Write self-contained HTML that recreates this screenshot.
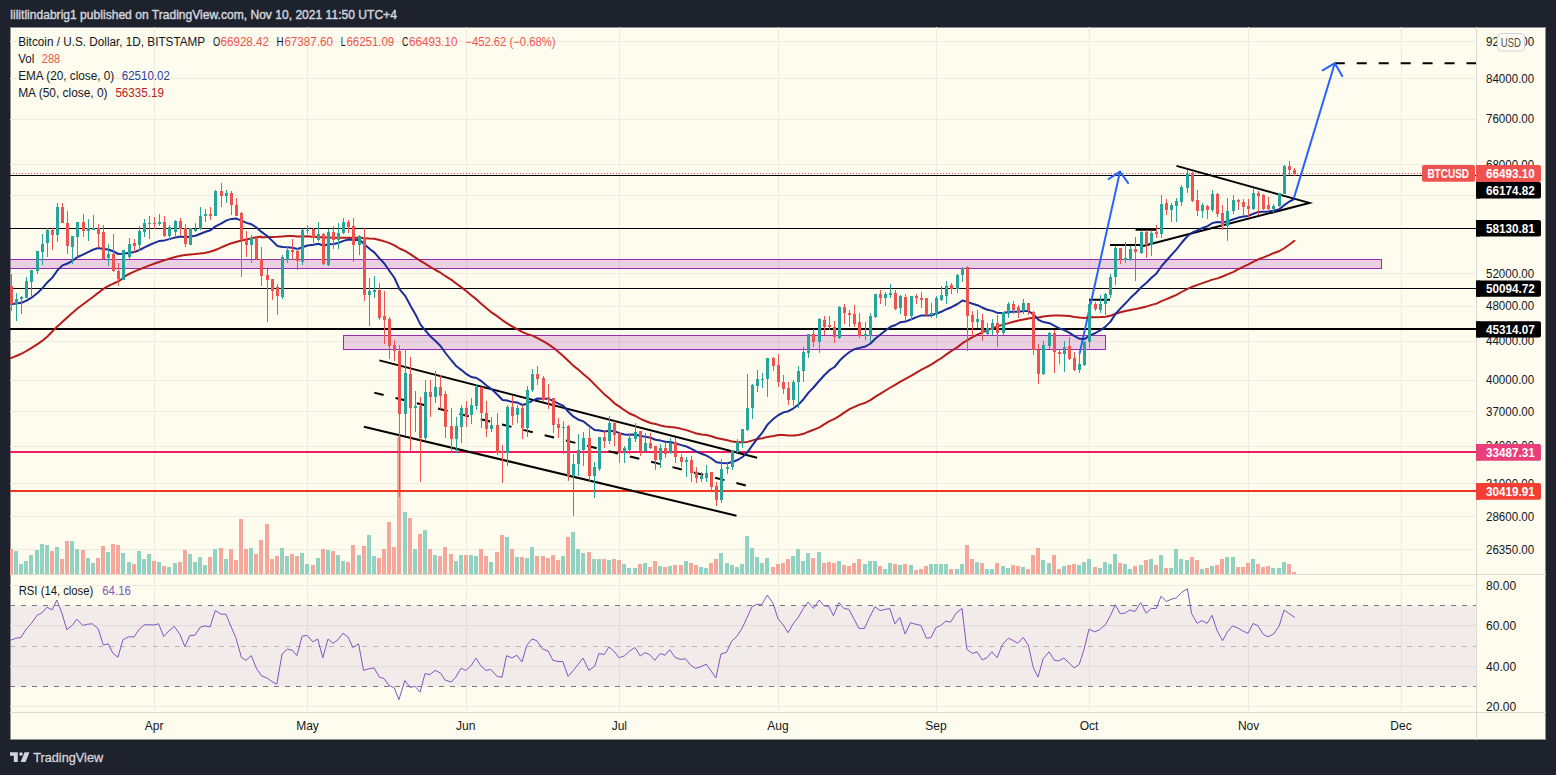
<!DOCTYPE html>
<html><head><meta charset="utf-8"><title>BTCUSD chart</title>
<style>
html,body{margin:0;padding:0;}
body{width:1556px;height:775px;background:#1e222d;position:relative;overflow:hidden;font-family:"Liberation Sans",sans-serif;}
.hdr{position:absolute;left:10px;top:6px;font-size:13px;font-weight:bold;color:#c9cbd2;white-space:nowrap;letter-spacing:-0.2px}
.chart{position:absolute;left:10px;top:27px;width:1536px;height:713px;background:#fefcee;box-shadow:inset 0 0 0 1px rgba(30,34,45,0.5);}
.leg{position:absolute;left:19px;font-size:12px;color:#131722;white-space:nowrap}
.leg span{margin-left:4px}
.foot{position:absolute;left:34px;top:747px;font-size:14px;color:#c9cbd2;white-space:nowrap}
</style></head><body>
<div class="chart"></div>
<svg width="1556" height="775" style="position:absolute;left:0;top:0"><defs><clipPath id="mp"><rect x="10" y="27" width="1466" height="547"/></clipPath><clipPath id="rp"><rect x="10" y="574" width="1466" height="138"/></clipPath></defs><path d="M10 41.5 H1476 M10 78.5 H1476 M10 119.5 H1476 M10 164.5 H1476 M10 195.5 H1476 M10 273.5 H1476 M10 306.5 H1476 M10 341.5 H1476 M10 380.5 H1476 M10 411.5 H1476 M10 446.5 H1476 M10 483.5 H1476 M10 516.5 H1476 M10 549.5 H1476 M10 585.5 H1476 M10 625.5 H1476 M10 666.5 H1476 M10 706.5 H1476 M154.5 27 V712 M307.5 27 V712 M466.5 27 V712 M619.5 27 V712 M778.5 27 V712 M936.5 27 V712 M1089.5 27 V712 M1248.5 27 V712 M1401.5 27 V712" stroke="#eeecdf" stroke-width="1" fill="none"/><rect x="10" y="605.5" width="1466" height="81" fill="#7e57c2" fill-opacity="0.1"/><path d="M10 574.5 H1546 M10 712.5 H1546 M1476.5 27 V740" stroke="#dcdacc" stroke-width="1" fill="none"/><g clip-path="url(#mp)"><path d="M14 551 h4 V574 h-4Z M19 564 h4 V574 h-4Z M24 561 h4 V574 h-4Z M29 555 h4 V574 h-4Z M35 550 h4 V574 h-4Z M40 544 h4 V574 h-4Z M45 545 h4 V574 h-4Z M55 547 h4 V574 h-4Z M70 541 h4 V574 h-4Z M75 549 h4 V574 h-4Z M86 558 h4 V574 h-4Z M91 563 h4 V574 h-4Z M106 552 h4 V574 h-4Z M121 553 h4 V574 h-4Z M127 562 h4 V574 h-4Z M137 551 h4 V574 h-4Z M142 559 h4 V574 h-4Z M147 554 h4 V574 h-4Z M157 562 h4 V574 h-4Z M167 567 h4 V574 h-4Z M173 563 h4 V574 h-4Z M188 554 h4 V574 h-4Z M193 562 h4 V574 h-4Z M198 557 h4 V574 h-4Z M203 565 h4 V574 h-4Z M213 549 h4 V574 h-4Z M224 559 h4 V574 h-4Z M249 548 h4 V574 h-4Z M280 548 h4 V574 h-4Z M285 556 h4 V574 h-4Z M300 553 h4 V574 h-4Z M305 564 h4 V574 h-4Z M316 558 h4 V574 h-4Z M326 550 h4 V574 h-4Z M336 555 h4 V574 h-4Z M341 561 h4 V574 h-4Z M357 555 h4 V574 h-4Z M367 535 h4 V574 h-4Z M372 556 h4 V574 h-4Z M403 512 h4 V574 h-4Z M413 549 h4 V574 h-4Z M423 530 h4 V574 h-4Z M433 555 h4 V574 h-4Z M454 561 h4 V574 h-4Z M459 555 h4 V574 h-4Z M469 555 h4 V574 h-4Z M474 556 h4 V574 h-4Z M489 562 h4 V574 h-4Z M505 537 h4 V574 h-4Z M515 557 h4 V574 h-4Z M525 558 h4 V574 h-4Z M530 547 h4 V574 h-4Z M561 556 h4 V574 h-4Z M571 532 h4 V574 h-4Z M576 549 h4 V574 h-4Z M581 553 h4 V574 h-4Z M592 559 h4 V574 h-4Z M597 559 h4 V574 h-4Z M607 560 h4 V574 h-4Z M622 564 h4 V574 h-4Z M627 568 h4 V574 h-4Z M633 568 h4 V574 h-4Z M643 563 h4 V574 h-4Z M658 566 h4 V574 h-4Z M668 566 h4 V574 h-4Z M684 561 h4 V574 h-4Z M699 567 h4 V574 h-4Z M704 568 h4 V574 h-4Z M719 553 h4 V574 h-4Z M725 563 h4 V574 h-4Z M730 565 h4 V574 h-4Z M735 567 h4 V574 h-4Z M740 564 h4 V574 h-4Z M745 536 h4 V574 h-4Z M750 548 h4 V574 h-4Z M755 557 h4 V574 h-4Z M760 563 h4 V574 h-4Z M765 558 h4 V574 h-4Z M791 556 h4 V574 h-4Z M796 549 h4 V574 h-4Z M801 561 h4 V574 h-4Z M806 553 h4 V574 h-4Z M817 552 h4 V574 h-4Z M837 561 h4 V574 h-4Z M863 564 h4 V574 h-4Z M868 561 h4 V574 h-4Z M873 561 h4 V574 h-4Z M883 569 h4 V574 h-4Z M888 563 h4 V574 h-4Z M898 565 h4 V574 h-4Z M909 565 h4 V574 h-4Z M929 564 h4 V574 h-4Z M934 564 h4 V574 h-4Z M939 564 h4 V574 h-4Z M944 564 h4 V574 h-4Z M955 569 h4 V574 h-4Z M960 564 h4 V574 h-4Z M975 562 h4 V574 h-4Z M985 569 h4 V574 h-4Z M990 569 h4 V574 h-4Z M1001 566 h4 V574 h-4Z M1006 568 h4 V574 h-4Z M1021 567 h4 V574 h-4Z M1041 560 h4 V574 h-4Z M1047 563 h4 V574 h-4Z M1062 566 h4 V574 h-4Z M1077 565 h4 V574 h-4Z M1082 562 h4 V574 h-4Z M1087 559 h4 V574 h-4Z M1098 568 h4 V574 h-4Z M1103 562 h4 V574 h-4Z M1108 564 h4 V574 h-4Z M1113 554 h4 V574 h-4Z M1123 564 h4 V574 h-4Z M1128 569 h4 V574 h-4Z M1139 565 h4 V574 h-4Z M1149 559 h4 V574 h-4Z M1159 555 h4 V574 h-4Z M1169 568 h4 V574 h-4Z M1174 549 h4 V574 h-4Z M1179 559 h4 V574 h-4Z M1185 560 h4 V574 h-4Z M1200 569 h4 V574 h-4Z M1210 566 h4 V574 h-4Z M1225 557 h4 V574 h-4Z M1231 557 h4 V574 h-4Z M1251 559 h4 V574 h-4Z M1271 568 h4 V574 h-4Z M1277 568 h4 V574 h-4Z M1282 562 h4 V574 h-4Z" fill="#92d2c3"/><path d="M9 549 h4 V574 h-4Z M50 551 h4 V574 h-4Z M60 559 h4 V574 h-4Z M65 541 h4 V574 h-4Z M81 550 h4 V574 h-4Z M96 558 h4 V574 h-4Z M101 546 h4 V574 h-4Z M111 544 h4 V574 h-4Z M116 545 h4 V574 h-4Z M132 564 h4 V574 h-4Z M152 561 h4 V574 h-4Z M162 566 h4 V574 h-4Z M178 562 h4 V574 h-4Z M183 550 h4 V574 h-4Z M208 557 h4 V574 h-4Z M219 548 h4 V574 h-4Z M229 549 h4 V574 h-4Z M234 560 h4 V574 h-4Z M239 519 h4 V574 h-4Z M244 549 h4 V574 h-4Z M254 554 h4 V574 h-4Z M259 540 h4 V574 h-4Z M265 524 h4 V574 h-4Z M270 559 h4 V574 h-4Z M275 556 h4 V574 h-4Z M290 554 h4 V574 h-4Z M295 556 h4 V574 h-4Z M311 565 h4 V574 h-4Z M321 549 h4 V574 h-4Z M331 551 h4 V574 h-4Z M346 562 h4 V574 h-4Z M351 545 h4 V574 h-4Z M362 546 h4 V574 h-4Z M377 558 h4 V574 h-4Z M382 549 h4 V574 h-4Z M387 522 h4 V574 h-4Z M392 547 h4 V574 h-4Z M397 437 h4 V574 h-4Z M408 518 h4 V574 h-4Z M418 534 h4 V574 h-4Z M428 549 h4 V574 h-4Z M438 556 h4 V574 h-4Z M443 547 h4 V574 h-4Z M449 554 h4 V574 h-4Z M464 555 h4 V574 h-4Z M479 549 h4 V574 h-4Z M484 556 h4 V574 h-4Z M495 552 h4 V574 h-4Z M500 535 h4 V574 h-4Z M510 549 h4 V574 h-4Z M520 557 h4 V574 h-4Z M535 556 h4 V574 h-4Z M541 556 h4 V574 h-4Z M546 558 h4 V574 h-4Z M551 555 h4 V574 h-4Z M556 560 h4 V574 h-4Z M566 537 h4 V574 h-4Z M587 552 h4 V574 h-4Z M602 559 h4 V574 h-4Z M612 559 h4 V574 h-4Z M617 560 h4 V574 h-4Z M638 564 h4 V574 h-4Z M648 567 h4 V574 h-4Z M653 561 h4 V574 h-4Z M663 567 h4 V574 h-4Z M673 565 h4 V574 h-4Z M679 565 h4 V574 h-4Z M689 563 h4 V574 h-4Z M694 565 h4 V574 h-4Z M709 563 h4 V574 h-4Z M714 559 h4 V574 h-4Z M771 567 h4 V574 h-4Z M776 564 h4 V574 h-4Z M781 563 h4 V574 h-4Z M786 559 h4 V574 h-4Z M811 558 h4 V574 h-4Z M822 563 h4 V574 h-4Z M827 562 h4 V574 h-4Z M832 563 h4 V574 h-4Z M842 565 h4 V574 h-4Z M847 566 h4 V574 h-4Z M852 563 h4 V574 h-4Z M857 559 h4 V574 h-4Z M878 566 h4 V574 h-4Z M893 564 h4 V574 h-4Z M903 564 h4 V574 h-4Z M914 570 h4 V574 h-4Z M919 569 h4 V574 h-4Z M924 566 h4 V574 h-4Z M949 569 h4 V574 h-4Z M965 545 h4 V574 h-4Z M970 559 h4 V574 h-4Z M980 563 h4 V574 h-4Z M995 563 h4 V574 h-4Z M1011 565 h4 V574 h-4Z M1016 566 h4 V574 h-4Z M1026 569 h4 V574 h-4Z M1031 555 h4 V574 h-4Z M1036 548 h4 V574 h-4Z M1052 555 h4 V574 h-4Z M1057 569 h4 V574 h-4Z M1067 565 h4 V574 h-4Z M1072 564 h4 V574 h-4Z M1093 567 h4 V574 h-4Z M1118 563 h4 V574 h-4Z M1133 566 h4 V574 h-4Z M1144 560 h4 V574 h-4Z M1154 565 h4 V574 h-4Z M1164 568 h4 V574 h-4Z M1190 557 h4 V574 h-4Z M1195 560 h4 V574 h-4Z M1205 568 h4 V574 h-4Z M1215 565 h4 V574 h-4Z M1220 559 h4 V574 h-4Z M1236 567 h4 V574 h-4Z M1241 567 h4 V574 h-4Z M1246 563 h4 V574 h-4Z M1256 564 h4 V574 h-4Z M1261 567 h4 V574 h-4Z M1266 566 h4 V574 h-4Z M1287 564 h4 V574 h-4Z M1292 572 h4 V574 h-4Z" fill="#f6a79c"/></g><g clip-path="url(#mp)"><rect x="4.5" y="259.5" width="1377" height="9" fill="#9c27b0" fill-opacity="0.2" stroke="#9c27b0" stroke-width="1"/></g><rect x="343.5" y="335.5" width="762" height="14" fill="#9c27b0" fill-opacity="0.2" stroke="#9c27b0" stroke-width="1"/><path d="M267.5 268 V322" stroke="#9c27b0" stroke-width="1"/><path d="M10 175.5 H1476 M10 228.5 H1476 M10 288.5 H1476" stroke="#000" stroke-width="1"/><path d="M10 329 H1476" stroke="#000" stroke-width="2"/><path d="M10 452 H1476" stroke="#e91e63" stroke-width="2"/><path d="M10 491 H1476" stroke="#f23622" stroke-width="2"/><path d="M10 173.5 H1422" stroke="#ef5350" stroke-width="1" stroke-dasharray="1 2"/><g fill="none" stroke="#000" stroke-width="2" stroke-linecap="butt"><path d="M379.4 360.4 L757.1 457.8"/><path d="M374.2 392.6 L746.1 485.5" stroke-dasharray="9.7 12.26"/><path d="M363.9 426.7 L736.5 515.7"/><path d="M1089 299.7 H1110 M1110 245.1 H1143 M1135.6 229.8 H1156"/><path d="M1176.5 165.9 L1309.4 202.9 L1143 246"/><path d="M1334.8 63.2 H1476" stroke-dasharray="10 11.95"/></g><g fill="none" stroke="#2962ff" stroke-width="2" stroke-linecap="round" stroke-linejoin="round"><path d="M1079.6 353.5 L1120 171.6 M1108.7 179 L1120 171.6 L1128 182.9"/><path d="M1294.2 197.1 L1334.8 63.2 M1322.6 70.3 L1334.8 63.2 L1342.2 76.1"/></g><g clip-path="url(#mp)" fill="none" stroke-linejoin="round" stroke-linecap="round"><polyline points="10.8,358.2 12.1,357.6 14,356.9 16.1,356 18.5,355 20.9,353.9 23.2,352.8 25.5,351.5 27.9,350.1 30.4,348.7 32.8,347.1 35.1,345.7 37.2,344.3 39,343.1 40.7,341.9 42.2,340.9 43.6,339.7 45,338.6 46.5,337.3 48,335.9 49.6,334.3 51.1,332.7 52.6,331.1 54.2,329.5 55.7,328 57.2,326.6 58.7,325.2 60.2,323.9 61.7,322.5 63.3,321 65,319.5 66.9,317.8 68.8,316.1 70.8,314.2 72.9,312.4 75.1,310.5 77.4,308.6 79.8,306.7 82.5,304.7 85.2,302.7 87.8,300.7 90.5,298.8 92.9,297 95.1,295.3 97.2,293.6 99.2,292.1 101.2,290.5 103.2,289.1 105.3,287.7 107.6,286.4 110,285.2 112.4,284.1 114.8,283 117.1,281.9 119.2,280.8 120.9,279.7 122.2,278.7 123.4,277.6 124.7,276.5 126.5,275.3 129,274 132.4,272.4 136.4,270.7 140.9,268.8 145.6,266.9 150.3,265.1 154.8,263.5 159.1,262 163.3,260.6 167.5,259.2 171.8,258 176.1,256.8 180.6,255.8 185.2,255 190.1,254.4 195,254 199.8,253.5 204.5,252.9 209,252 213.2,250.8 217.1,249.3 220.8,247.6 224.5,246 228.3,244.4 232.3,243 236.7,241.8 241.5,240.5 246.4,239.4 251,238.4 255,237.6 258,237 259.9,236.7 260.9,236.7 261.4,236.8 261.4,237.1 261.4,237.3 261.5,237.4 267.5,237 272.5,236.9 277.5,236.8 282.5,236.4 287.5,236 292.5,236 297.5,236.4 302.5,236.4 307.5,236.3 313.5,236.9 318.5,237.1 323.5,237.5 328.5,237.4 333.5,237.8 338.5,237.8 343.5,237.7 348.5,237.7 353.5,237.9 359.5,237.5 364.5,238.2 369.5,238.6 374.5,238.8 379.5,240 384.5,241.4 389.5,243.1 394.5,245.3 399.5,248.5 405.5,251.2 410.5,254.3 415.5,257.6 420.5,260.9 425.5,263.9 430.5,267.1 435.5,270 440.5,272.7 445.5,276.2 451.5,279.9 456.5,283.8 461.5,287.4 466.5,291.2 471.5,295.5 476.5,299.4 481.5,303.9 486.5,308.3 491.5,312.4 497.5,316.4 502.5,320.3 507.5,323.7 512.5,326.7 517.5,329.3 522.5,332.1 527.5,334.1 532.5,335.6 537.5,338.2 543.5,341.3 548.5,344.4 553.5,347.8 558.5,352 563.5,356.2 568.5,361 573.5,365.9 578.5,369.7 583.5,374.3 589.5,379.3 594.5,384.4 599.5,389.4 604.5,394.4 609.5,398.6 614.5,403.3 619.5,406.7 624.5,410.2 629.5,413.5 635.5,416 640.5,418.9 645.5,421 650.5,423 655.5,423.9 660.5,425.5 665.5,426.4 670.5,427.1 675.5,427.5 681.5,428.9 686.5,430.1 691.5,431.9 696.5,433.5 701.5,434.4 706.5,435.1 711.5,436.2 716.5,438 721.5,439.1 727.5,440.3 732.5,441.6 737.5,442.2 742.5,442.2 747.5,441.9 752.5,440.4 757.5,438.9 762.5,438.2 767.5,436.9 773.5,436 778.5,435 783.5,434.9 788.5,435.5 793.5,435.6 798.5,434.9 803.5,433.8 808.5,431.7 813.5,429.8 819.5,427.3 824.5,424.1 829.5,421.2 834.5,418.8 839.5,415.9 844.5,412.4 849.5,409.2 854.5,406.8 859.5,404.6 865.5,402.7 870.5,400.1 875.5,396.7 880.5,393.6 885.5,390.5 890.5,387.5 895.5,384.6 900.5,381.6 905.5,378.9 911.5,375.7 916.5,372.6 921.5,369.6 926.5,367.1 931.5,364.3 936.5,361.1 941.5,358 946.5,354.4 951.5,350.9 957.5,347.1 962.5,343.2 967.5,340.2 972.5,337.2 977.5,334.6 982.5,332.3 987.5,330.2 992.5,328.1 997.5,326.4 1003.5,324.6 1008.5,323.1 1013.5,321.8 1018.5,320.5 1023.5,319.4 1028.5,318.4 1033.5,317.8 1038.5,317.6 1043.5,316.6 1049.5,315.7 1054.5,315.4 1059.5,315.4 1064.5,315.7 1069.5,316 1074.5,316.9 1079.5,317.6 1084.5,317.9 1089.5,317.3 1095.5,317.3 1100.5,317.1 1105.5,316.7 1110.5,315.7 1115.5,313.8 1120.5,312.3 1125.5,311 1130.5,310.1 1135.5,309.1 1141.5,307.7 1146.5,306.6 1151.5,304.9 1156.5,303.6 1161.5,301.1 1166.5,299.1 1171.5,297 1176.5,294.8 1181.5,292 1187.5,288.8 1192.5,286.7 1197.5,284.9 1202.5,283.1 1207.5,281.4 1212.5,279.6 1217.5,278.4 1222.5,276.5 1227.5,274.3 1233.5,271.8 1238.5,269.2 1243.5,266.7 1248.5,264.4 1253.5,261.6 1258.5,259.3 1263.5,257.4 1268.5,255.3 1273.5,253.2 1279.5,251 1284.5,248 1289.5,244.5 1294.5,240.8" stroke="#b71c1c" stroke-width="2"/><polyline points="11.5,303.9 16.5,303.4 21.5,302.8 26.5,300.7 31.5,297.7 37.5,293 42.5,288.1 47.5,282.2 52.5,277.4 57.5,270.2 62.5,265.4 67.5,263.5 72.5,260.8 77.5,257 83.5,254.4 88.5,251.8 93.5,249.5 98.5,248 103.5,249 108.5,249.5 113.5,251.5 118.5,254 123.5,253.7 129.5,252.7 134.5,252.1 139.5,250 144.5,247.4 149.5,245 154.5,242.9 159.5,240.9 164.5,240.4 169.5,239.1 175.5,237.4 180.5,236.6 185.5,237.3 190.5,236.4 195.5,235.7 200.5,233.8 205.5,231.8 210.5,230.3 215.5,226.4 221.5,223.4 226.5,220.4 231.5,218.9 236.5,218.6 241.5,220.6 246.5,222.9 251.5,224.3 256.5,227.5 261.5,231.9 267.5,236.2 272.5,241.1 277.5,246 282.5,247.1 287.5,247.3 292.5,247.8 297.5,249 302.5,247.2 307.5,245.5 313.5,244.8 318.5,243.8 323.5,245.7 328.5,244.3 333.5,244 338.5,242.9 343.5,240.9 348.5,239.5 353.5,240.1 359.5,239.7 364.5,244.6 369.5,248.8 374.5,252.6 379.5,258.4 384.5,263.8 389.5,271 394.5,278 399.5,289.1 405.5,296.4 410.5,305.8 415.5,314.4 420.5,324.6 425.5,330.6 430.5,336.5 435.5,341 440.5,346 445.5,353 451.5,360.5 456.5,366.3 461.5,370.1 466.5,374.2 471.5,377.1 476.5,378 481.5,381.2 486.5,385.5 491.5,389.1 497.5,394.8 502.5,400 507.5,400.6 512.5,402.1 517.5,402.6 522.5,405 527.5,403.5 532.5,400.6 537.5,398.5 543.5,398.7 548.5,398.8 553.5,401.2 558.5,403.7 563.5,405.9 568.5,412 573.5,416.7 578.5,419.7 583.5,421.4 589.5,426.3 594.5,430 599.5,430.6 604.5,431.6 609.5,430.8 614.5,431.2 619.5,433.1 624.5,434.5 629.5,434.8 635.5,434.5 640.5,436 645.5,436.7 650.5,437.8 655.5,439.8 660.5,440.6 665.5,441.8 670.5,442 675.5,443.4 681.5,445.1 686.5,446.5 691.5,448.9 696.5,451.6 701.5,453.8 706.5,455.6 711.5,458.5 716.5,462.3 721.5,462.9 727.5,463.3 732.5,462 737.5,460 742.5,457 747.5,452.1 752.5,445.2 757.5,438.4 762.5,432.3 767.5,424.6 773.5,418.7 778.5,415 783.5,412.4 788.5,411.2 793.5,408.3 798.5,404.6 803.5,399.2 808.5,392.6 813.5,387.5 819.5,380.5 824.5,375 829.5,370.2 834.5,367 839.5,360.8 844.5,356 849.5,352 854.5,349.2 859.5,347.9 865.5,346.5 870.5,343.5 875.5,338.5 880.5,334.5 885.5,330.5 890.5,326.8 895.5,325 900.5,322.2 905.5,321.6 911.5,319.2 916.5,317.1 921.5,315.4 926.5,315.4 931.5,315.2 936.5,313.5 941.5,311.7 946.5,309.2 951.5,307.2 957.5,304 962.5,300.5 967.5,301.9 972.5,303.8 977.5,305.2 982.5,307.7 987.5,309.7 992.5,310.9 997.5,312.9 1003.5,312.8 1008.5,312 1013.5,311.8 1018.5,311.8 1023.5,311 1028.5,311 1033.5,314.5 1038.5,319.8 1043.5,322.1 1049.5,323.2 1054.5,325.9 1059.5,328.4 1064.5,330.2 1069.5,332.8 1074.5,336.2 1079.5,338.8 1084.5,339.1 1089.5,335.6 1095.5,333 1100.5,330.2 1105.5,326.6 1110.5,321.6 1115.5,314 1120.5,308.4 1125.5,303.3 1130.5,297.8 1135.5,293.3 1141.5,287 1146.5,282.8 1151.5,277.7 1156.5,273.4 1161.5,266.2 1166.5,260.5 1171.5,254.9 1176.5,249.4 1181.5,243 1187.5,236 1192.5,232.5 1197.5,230.4 1202.5,227.9 1207.5,226.2 1212.5,223 1217.5,222.1 1222.5,222.5 1227.5,221.4 1233.5,219.3 1238.5,217.6 1243.5,216.6 1248.5,215.9 1253.5,213.7 1258.5,211.9 1263.5,211.7 1268.5,211.4 1273.5,210.8 1279.5,209.1 1284.5,204.9 1289.5,201.5 1294.5,198.8" stroke="#1a2d99" stroke-width="2"/></g><g clip-path="url(#mp)"><path d="M16 293 h1 V321 h-1Z M21 296 h1 V314 h-1Z M26 277 h1 V298 h-1Z M31 270 h1 V296 h-1Z M37 251 h1 V274 h-1Z M42 234 h1 V265 h-1Z M47 228 h1 V257 h-1Z M57 203 h1 V242 h-1Z M72 236 h1 V264 h-1Z M77 222 h1 V257 h-1Z M88 219 h1 V241 h-1Z M93 215 h1 V230 h-1Z M108 244 h1 V266 h-1Z M123 250 h1 V280 h-1Z M129 238 h1 V259 h-1Z M139 226 h1 V251 h-1Z M144 219 h1 V237 h-1Z M149 216 h1 V239 h-1Z M159 214 h1 V226 h-1Z M169 225 h1 V240 h-1Z M175 220 h1 V237 h-1Z M190 228 h1 V245 h-1Z M195 223 h1 V232 h-1Z M200 207 h1 V230 h-1Z M205 209 h1 V222 h-1Z M215 190 h1 V216 h-1Z M226 190 h1 V203 h-1Z M251 235 h1 V263 h-1Z M282 255 h1 V299 h-1Z M287 247 h1 V263 h-1Z M302 229 h1 V265 h-1Z M307 225 h1 V234 h-1Z M318 222 h1 V241 h-1Z M328 229 h1 V266 h-1Z M338 223 h1 V249 h-1Z M343 218 h1 V234 h-1Z M359 235 h1 V255 h-1Z M369 278 h1 V326 h-1Z M374 276 h1 V298 h-1Z M405 349 h1 V435 h-1Z M415 391 h1 V432 h-1Z M425 380 h1 V441 h-1Z M435 371 h1 V403 h-1Z M456 417 h1 V453 h-1Z M461 405 h1 V443 h-1Z M471 398 h1 V424 h-1Z M476 384 h1 V410 h-1Z M491 417 h1 V432 h-1Z M507 405 h1 V466 h-1Z M517 405 h1 V423 h-1Z M527 386 h1 V437 h-1Z M532 369 h1 V392 h-1Z M563 421 h1 V454 h-1Z M573 454 h1 V516 h-1Z M578 434 h1 V476 h-1Z M583 432 h1 V466 h-1Z M594 462 h1 V498 h-1Z M599 437 h1 V471 h-1Z M609 416 h1 V444 h-1Z M624 446 h1 V463 h-1Z M629 433 h1 V454 h-1Z M635 423 h1 V442 h-1Z M645 433 h1 V452 h-1Z M660 444 h1 V468 h-1Z M670 438 h1 V454 h-1Z M686 457 h1 V477 h-1Z M701 472 h1 V482 h-1Z M706 465 h1 V482 h-1Z M721 459 h1 V503 h-1Z M727 463 h1 V474 h-1Z M732 450 h1 V470 h-1Z M737 439 h1 V453 h-1Z M742 429 h1 V448 h-1Z M747 374 h1 V431 h-1Z M752 384 h1 V419 h-1Z M757 370 h1 V392 h-1Z M762 373 h1 V388 h-1Z M767 358 h1 V397 h-1Z M793 380 h1 V406 h-1Z M798 366 h1 V408 h-1Z M803 347 h1 V382 h-1Z M808 334 h1 V358 h-1Z M819 318 h1 V353 h-1Z M839 306 h1 V339 h-1Z M865 322 h1 V340 h-1Z M870 313 h1 V342 h-1Z M875 294 h1 V318 h-1Z M885 292 h1 V306 h-1Z M890 284 h1 V298 h-1Z M900 295 h1 V314 h-1Z M911 296 h1 V320 h-1Z M931 303 h1 V318 h-1Z M936 296 h1 V318 h-1Z M941 286 h1 V301 h-1Z M946 281 h1 V304 h-1Z M957 274 h1 V293 h-1Z M962 267 h1 V282 h-1Z M977 310 h1 V328 h-1Z M987 323 h1 V336 h-1Z M992 319 h1 V335 h-1Z M1003 312 h1 V335 h-1Z M1008 302 h1 V318 h-1Z M1023 299 h1 V314 h-1Z M1043 341 h1 V375 h-1Z M1049 332 h1 V349 h-1Z M1064 341 h1 V372 h-1Z M1079 350 h1 V373 h-1Z M1084 341 h1 V366 h-1Z M1089 301 h1 V348 h-1Z M1100 295 h1 V313 h-1Z M1105 293 h1 V315 h-1Z M1110 274 h1 V298 h-1Z M1115 246 h1 V285 h-1Z M1125 242 h1 V263 h-1Z M1130 246 h1 V261 h-1Z M1141 230 h1 V254 h-1Z M1151 230 h1 V256 h-1Z M1161 195 h1 V238 h-1Z M1171 203 h1 V222 h-1Z M1176 198 h1 V222 h-1Z M1181 185 h1 V206 h-1Z M1187 170 h1 V193 h-1Z M1202 203 h1 V218 h-1Z M1212 190 h1 V212 h-1Z M1227 198 h1 V241 h-1Z M1233 195 h1 V214 h-1Z M1253 188 h1 V210 h-1Z M1273 204 h1 V214 h-1Z M1279 193 h1 V207 h-1Z M1284 165 h1 V194 h-1Z" fill="#26a69a"/><path d="M15 299 h3 V304 h-3Z M20 297 h3 V299 h-3Z M25 281 h3 V298 h-3Z M30 270 h3 V282 h-3Z M36 251 h3 V271 h-3Z M41 244 h3 V252 h-3Z M46 230 h3 V243 h-3Z M56 207 h3 V235 h-3Z M71 236 h3 V247 h-3Z M76 222 h3 V237 h-3Z M87 228 h3 V231 h-3Z M92 228 h3 V230 h-3Z M107 254 h3 V258 h-3Z M122 250 h3 V280 h-3Z M128 244 h3 V257 h-3Z M138 231 h3 V245 h-3Z M143 223 h3 V232 h-3Z M148 223 h3 V224 h-3Z M158 222 h3 V224 h-3Z M168 227 h3 V236 h-3Z M174 221 h3 V232 h-3Z M189 228 h3 V245 h-3Z M194 229 h3 V231 h-3Z M199 216 h3 V229 h-3Z M204 214 h3 V216 h-3Z M214 191 h3 V216 h-3Z M225 193 h3 V196 h-3Z M250 238 h3 V245 h-3Z M281 257 h3 V297 h-3Z M286 250 h3 V260 h-3Z M301 230 h3 V262 h-3Z M306 230 h3 V231 h-3Z M317 234 h3 V240 h-3Z M327 232 h3 V265 h-3Z M337 233 h3 V240 h-3Z M342 222 h3 V233 h-3Z M358 236 h3 V245 h-3Z M368 291 h3 V295 h-3Z M373 290 h3 V292 h-3Z M404 373 h3 V414 h-3Z M414 406 h3 V408 h-3Z M424 392 h3 V438 h-3Z M434 387 h3 V397 h-3Z M455 426 h3 V439 h-3Z M460 408 h3 V427 h-3Z M470 405 h3 V415 h-3Z M475 387 h3 V406 h-3Z M490 425 h3 V429 h-3Z M506 407 h3 V453 h-3Z M516 408 h3 V415 h-3Z M526 390 h3 V428 h-3Z M531 374 h3 V390 h-3Z M562 427 h3 V428 h-3Z M572 464 h3 V476 h-3Z M577 450 h3 V464 h-3Z M582 438 h3 V450 h-3Z M593 467 h3 V476 h-3Z M598 437 h3 V469 h-3Z M608 423 h3 V441 h-3Z M623 448 h3 V452 h-3Z M628 438 h3 V450 h-3Z M634 432 h3 V439 h-3Z M644 443 h3 V451 h-3Z M659 448 h3 V460 h-3Z M669 443 h3 V453 h-3Z M685 460 h3 V462 h-3Z M700 476 h3 V479 h-3Z M705 473 h3 V478 h-3Z M720 469 h3 V500 h-3Z M726 467 h3 V469 h-3Z M731 450 h3 V467 h-3Z M736 442 h3 V452 h-3Z M741 429 h3 V442 h-3Z M746 408 h3 V430 h-3Z M751 385 h3 V408 h-3Z M756 379 h3 V386 h-3Z M761 379 h3 V380 h-3Z M766 358 h3 V379 h-3Z M792 382 h3 V400 h-3Z M797 371 h3 V382 h-3Z M802 352 h3 V371 h-3Z M807 334 h3 V353 h-3Z M818 319 h3 V342 h-3Z M838 307 h3 V338 h-3Z M864 334 h3 V336 h-3Z M869 316 h3 V336 h-3Z M874 294 h3 V317 h-3Z M884 294 h3 V298 h-3Z M889 293 h3 V295 h-3Z M899 296 h3 V308 h-3Z M910 296 h3 V316 h-3Z M930 313 h3 V315 h-3Z M935 298 h3 V315 h-3Z M940 295 h3 V300 h-3Z M945 286 h3 V296 h-3Z M956 275 h3 V289 h-3Z M961 268 h3 V275 h-3Z M976 319 h3 V322 h-3Z M986 328 h3 V334 h-3Z M991 323 h3 V330 h-3Z M1002 312 h3 V333 h-3Z M1007 304 h3 V314 h-3Z M1022 303 h3 V311 h-3Z M1042 345 h3 V374 h-3Z M1048 333 h3 V346 h-3Z M1063 347 h3 V354 h-3Z M1078 364 h3 V370 h-3Z M1083 342 h3 V365 h-3Z M1088 304 h3 V342 h-3Z M1099 304 h3 V310 h-3Z M1104 294 h3 V304 h-3Z M1109 277 h3 V295 h-3Z M1114 248 h3 V277 h-3Z M1124 258 h3 V260 h-3Z M1129 249 h3 V260 h-3Z M1140 232 h3 V253 h-3Z M1150 233 h3 V245 h-3Z M1160 204 h3 V234 h-3Z M1170 205 h3 V210 h-3Z M1175 201 h3 V206 h-3Z M1180 187 h3 V202 h-3Z M1186 174 h3 V188 h-3Z M1201 205 h3 V211 h-3Z M1211 194 h3 V210 h-3Z M1226 211 h3 V226 h-3Z M1232 200 h3 V211 h-3Z M1252 193 h3 V209 h-3Z M1272 206 h3 V209 h-3Z M1278 193 h3 V206 h-3Z M1283 166 h3 V194 h-3Z" fill="#26a69a"/><path d="M11 274 h1 V311 h-1Z M52 228 h1 V250 h-1Z M62 203 h1 V223 h-1Z M67 211 h1 V254 h-1Z M83 214 h1 V237 h-1Z M98 224 h1 V248 h-1Z M103 225 h1 V260 h-1Z M113 234 h1 V272 h-1Z M118 263 h1 V286 h-1Z M134 239 h1 V253 h-1Z M154 217 h1 V229 h-1Z M164 216 h1 V237 h-1Z M180 218 h1 V235 h-1Z M185 224 h1 V247 h-1Z M210 207 h1 V220 h-1Z M221 183 h1 V207 h-1Z M231 191 h1 V215 h-1Z M236 198 h1 V216 h-1Z M241 212 h1 V277 h-1Z M246 231 h1 V257 h-1Z M256 237 h1 V260 h-1Z M261 247 h1 V286 h-1Z M267 271 h1 V322 h-1Z M272 279 h1 V300 h-1Z M277 284 h1 V315 h-1Z M292 239 h1 V260 h-1Z M297 248 h1 V270 h-1Z M313 228 h1 V243 h-1Z M323 233 h1 V265 h-1Z M333 226 h1 V249 h-1Z M348 220 h1 V233 h-1Z M353 218 h1 V262 h-1Z M364 228 h1 V301 h-1Z M379 283 h1 V320 h-1Z M384 291 h1 V344 h-1Z M389 317 h1 V359 h-1Z M394 340 h1 V361 h-1Z M399 345 h1 V497 h-1Z M410 357 h1 V451 h-1Z M420 397 h1 V482 h-1Z M430 380 h1 V417 h-1Z M440 375 h1 V409 h-1Z M445 391 h1 V438 h-1Z M451 408 h1 V451 h-1Z M466 401 h1 V427 h-1Z M481 387 h1 V428 h-1Z M486 401 h1 V437 h-1Z M497 413 h1 V455 h-1Z M502 445 h1 V483 h-1Z M512 396 h1 V425 h-1Z M522 405 h1 V439 h-1Z M537 366 h1 V385 h-1Z M543 376 h1 V401 h-1Z M548 384 h1 V409 h-1Z M553 398 h1 V433 h-1Z M558 418 h1 V438 h-1Z M568 425 h1 V481 h-1Z M589 428 h1 V481 h-1Z M604 431 h1 V448 h-1Z M614 421 h1 V446 h-1Z M619 433 h1 V463 h-1Z M640 431 h1 V456 h-1Z M650 433 h1 V449 h-1Z M655 446 h1 V470 h-1Z M665 443 h1 V458 h-1Z M675 438 h1 V463 h-1Z M681 454 h1 V467 h-1Z M691 456 h1 V482 h-1Z M696 467 h1 V483 h-1Z M711 472 h1 V491 h-1Z M716 482 h1 V506 h-1Z M773 357 h1 V371 h-1Z M778 354 h1 V387 h-1Z M783 375 h1 V394 h-1Z M788 382 h1 V405 h-1Z M813 329 h1 V347 h-1Z M824 316 h1 V335 h-1Z M829 316 h1 V330 h-1Z M834 321 h1 V343 h-1Z M844 304 h1 V324 h-1Z M849 310 h1 V327 h-1Z M854 305 h1 V327 h-1Z M859 313 h1 V338 h-1Z M880 290 h1 V304 h-1Z M895 290 h1 V310 h-1Z M905 294 h1 V320 h-1Z M916 294 h1 V304 h-1Z M921 292 h1 V308 h-1Z M926 298 h1 V316 h-1Z M951 283 h1 V294 h-1Z M967 266 h1 V351 h-1Z M972 311 h1 V337 h-1Z M982 314 h1 V341 h-1Z M997 315 h1 V347 h-1Z M1013 301 h1 V314 h-1Z M1018 305 h1 V318 h-1Z M1028 303 h1 V315 h-1Z M1033 311 h1 V355 h-1Z M1038 344 h1 V384 h-1Z M1054 330 h1 V373 h-1Z M1059 349 h1 V364 h-1Z M1069 337 h1 V360 h-1Z M1074 352 h1 V371 h-1Z M1095 302 h1 V311 h-1Z M1120 248 h1 V264 h-1Z M1135 237 h1 V281 h-1Z M1146 230 h1 V258 h-1Z M1156 225 h1 V238 h-1Z M1166 199 h1 V215 h-1Z M1192 172 h1 V202 h-1Z M1197 190 h1 V216 h-1Z M1207 205 h1 V219 h-1Z M1217 193 h1 V217 h-1Z M1222 205 h1 V230 h-1Z M1238 199 h1 V210 h-1Z M1243 199 h1 V215 h-1Z M1248 199 h1 V218 h-1Z M1258 191 h1 V215 h-1Z M1263 194 h1 V210 h-1Z M1268 197 h1 V210 h-1Z M1289 161 h1 V175 h-1Z M1294 168 h1 V176 h-1Z" fill="#ef5350"/><path d="M10 286 h3 V304 h-3Z M51 230 h3 V235 h-3Z M61 207 h3 V223 h-3Z M66 223 h3 V246 h-3Z M82 222 h3 V231 h-3Z M97 228 h3 V234 h-3Z M102 232 h3 V259 h-3Z M112 254 h3 V271 h-3Z M117 271 h3 V279 h-3Z M133 243 h3 V246 h-3Z M153 223 h3 V224 h-3Z M163 222 h3 V236 h-3Z M179 221 h3 V229 h-3Z M184 228 h3 V244 h-3Z M209 214 h3 V216 h-3Z M220 191 h3 V196 h-3Z M230 193 h3 V205 h-3Z M235 205 h3 V216 h-3Z M240 213 h3 V240 h-3Z M245 240 h3 V245 h-3Z M255 238 h3 V259 h-3Z M260 259 h3 V276 h-3Z M266 275 h3 V280 h-3Z M271 279 h3 V291 h-3Z M276 287 h3 V296 h-3Z M291 250 h3 V252 h-3Z M296 251 h3 V261 h-3Z M312 229 h3 V238 h-3Z M322 234 h3 V264 h-3Z M332 232 h3 V240 h-3Z M347 222 h3 V227 h-3Z M352 226 h3 V245 h-3Z M363 237 h3 V295 h-3Z M378 290 h3 V318 h-3Z M383 316 h3 V320 h-3Z M388 319 h3 V346 h-3Z M393 345 h3 V351 h-3Z M398 351 h3 V414 h-3Z M409 374 h3 V408 h-3Z M419 406 h3 V438 h-3Z M429 392 h3 V397 h-3Z M439 387 h3 V396 h-3Z M444 394 h3 V427 h-3Z M450 426 h3 V439 h-3Z M465 408 h3 V416 h-3Z M480 387 h3 V413 h-3Z M485 413 h3 V429 h-3Z M496 425 h3 V453 h-3Z M501 451 h3 V453 h-3Z M511 407 h3 V416 h-3Z M521 408 h3 V428 h-3Z M536 374 h3 V379 h-3Z M542 378 h3 V400 h-3Z M547 397 h3 V400 h-3Z M552 398 h3 V425 h-3Z M557 424 h3 V428 h-3Z M567 426 h3 V476 h-3Z M588 438 h3 V476 h-3Z M603 437 h3 V441 h-3Z M613 423 h3 V435 h-3Z M618 433 h3 V452 h-3Z M639 431 h3 V451 h-3Z M649 443 h3 V448 h-3Z M654 446 h3 V460 h-3Z M664 448 h3 V454 h-3Z M674 442 h3 V457 h-3Z M680 457 h3 V462 h-3Z M690 460 h3 V473 h-3Z M695 472 h3 V478 h-3Z M710 472 h3 V487 h-3Z M715 486 h3 V500 h-3Z M772 358 h3 V366 h-3Z M777 365 h3 V382 h-3Z M782 382 h3 V389 h-3Z M787 388 h3 V400 h-3Z M812 334 h3 V342 h-3Z M823 320 h3 V327 h-3Z M828 325 h3 V327 h-3Z M833 327 h3 V337 h-3Z M843 307 h3 V313 h-3Z M848 313 h3 V315 h-3Z M853 314 h3 V324 h-3Z M858 322 h3 V336 h-3Z M879 294 h3 V298 h-3Z M894 293 h3 V309 h-3Z M904 297 h3 V316 h-3Z M915 296 h3 V298 h-3Z M920 298 h3 V300 h-3Z M925 298 h3 V315 h-3Z M950 285 h3 V289 h-3Z M966 267 h3 V316 h-3Z M971 315 h3 V322 h-3Z M981 320 h3 V333 h-3Z M996 323 h3 V333 h-3Z M1012 304 h3 V310 h-3Z M1017 307 h3 V312 h-3Z M1027 303 h3 V311 h-3Z M1032 312 h3 V350 h-3Z M1037 350 h3 V374 h-3Z M1053 333 h3 V352 h-3Z M1058 352 h3 V354 h-3Z M1068 346 h3 V359 h-3Z M1073 358 h3 V370 h-3Z M1094 304 h3 V309 h-3Z M1119 248 h3 V259 h-3Z M1134 249 h3 V252 h-3Z M1145 232 h3 V245 h-3Z M1155 232 h3 V234 h-3Z M1165 203 h3 V210 h-3Z M1191 173 h3 V201 h-3Z M1196 200 h3 V211 h-3Z M1206 206 h3 V210 h-3Z M1216 194 h3 V214 h-3Z M1221 213 h3 V226 h-3Z M1237 200 h3 V202 h-3Z M1242 202 h3 V207 h-3Z M1247 206 h3 V209 h-3Z M1257 193 h3 V196 h-3Z M1262 195 h3 V209 h-3Z M1267 205 h3 V209 h-3Z M1288 166 h3 V170 h-3Z M1293 170 h3 V174 h-3Z" fill="#ef5350"/></g><path d="M10 605.5 H1476 M10 686.5 H1476" stroke="#787b86" stroke-width="1" stroke-dasharray="5 6"/><path d="M10 646.5 H1476" stroke="#787b86" stroke-opacity="0.5" stroke-width="1" stroke-dasharray="5 6"/><g clip-path="url(#rp)"><polyline points="10.2,640.3 15.9,638.2 20.8,637.6 25.9,629.7 31.4,623.4 37.1,615.3 42,612.8 47.1,607.2 52,610 56.8,600 61.9,613.2 66.8,629.7 72.1,625.5 76.8,619.1 82.7,625.5 87.4,624.2 92.3,623.8 98,628.4 103.3,645 108.2,643.9 112.8,653 117.9,657.3 123,639.7 128.3,636.9 134,636.9 138.9,629.7 144.2,624.8 149.5,624.8 153.8,625 158.6,623.8 163.7,636.5 169.2,630.6 174.3,626.3 179.9,634.4 184.9,646.7 189.8,635.4 194.7,635.4 200.4,627 205.3,625.9 210,627 215.3,610.6 221,614.2 225.9,614.2 231.2,627 235.8,637.6 241.4,657.3 246,660.3 251.3,655.6 256.2,667.9 261.3,675.7 266.8,677.9 271.9,681.5 276.8,684.2 282.1,653.9 287.4,649.2 292.3,650.3 296.9,655.6 302.2,636.1 307.1,635.4 312.8,641.8 317.7,639 322.8,657.7 328,639 333.1,643.3 338,639.7 342.9,633.3 348,636.9 352.9,647.5 358.6,643.9 363.5,670.4 369.2,668.7 374.1,667.9 379.4,677.2 384,678.5 388.9,685.3 394.2,687.8 398.9,699.7 404.8,680.6 410.1,687.4 415,686.3 420.1,692.1 425,673.6 429.9,674.7 435,670.4 440.5,673 445.1,680 451.1,682.1 455.7,677.2 461,668.3 465.9,670.4 471,665.8 475.9,658.1 480.8,665.8 485.9,670.4 490.7,669.4 497.1,676.4 502,677.2 506.6,655.6 511.9,658.1 516.8,655.2 521.9,662 526.8,645.4 532.1,639 536.8,640.7 542.7,649.2 548,650.9 552.9,660.3 558,661.5 562.8,661.5 568.1,676.4 573.4,670.4 578.3,664.1 583,658.1 588.9,670.4 594.7,666.2 598.9,653.5 604.2,654.5 608.9,647.1 613.7,650.9 619,657.7 624.3,656 629.7,650.9 635,647.5 640.3,656 644.8,652.7 649.5,654.5 654.8,660.3 660.1,653.5 665,655.2 669.7,649.7 675,657.3 680.3,659.4 685.6,658.8 690.5,665.1 695.6,668.3 701.1,666.6 706.2,664.1 711,670.9 715.9,677.9 721,653.9 726.5,652.4 731.6,641.2 737.1,636.1 742.2,628 747.1,617.4 752,606.8 756.6,604.3 762,604.3 767.3,595.1 773.2,603.6 777.9,618.5 783.2,624.8 788,632.7 793.1,623.8 798,617.8 803.3,608.5 808,602.1 813.5,608.5 819.2,600 824.1,605.8 828.8,606.4 833.4,615.7 838.9,602.6 844,608.5 848.9,609.4 853.8,618.5 858.9,628.4 864.4,628.4 869.5,617.4 875,606.8 880.1,610.6 885,609.4 889.8,608.5 894.9,623.8 899.8,617.4 905.1,634 910.4,622.7 915.7,624.2 921,625.5 926.3,638.2 931,637.6 935.9,627.6 940.7,625.5 945.8,621.2 950.7,622.1 956.4,612.8 962,608.5 966.8,649.2 972.3,653.5 977,651.8 982.3,659.8 987.1,657.7 991.8,651.8 997.1,657.7 1002.4,644.6 1008.4,638.2 1013.4,640.7 1017.7,643.3 1023.2,637.6 1028.3,645 1033.2,667.3 1038,677.2 1043.1,658.8 1049.1,651.8 1054.4,660.3 1058.6,660.9 1063.9,658.1 1069.2,663 1074.1,667.9 1079.2,664.5 1084.1,649.2 1089,629.1 1094.7,631.8 1099.6,629.7 1105.3,624.8 1110.6,615.3 1115.2,604.7 1120.1,613.6 1125,613.2 1129.7,610 1135,611.5 1140.7,602.6 1146.2,613.2 1151.3,608.5 1156.2,608.5 1161.1,596.2 1166.2,601.5 1171,599.4 1176.3,597.9 1181.6,592.4 1187.4,588.8 1191.6,613.6 1197.1,623.4 1201.8,620.6 1207.1,623.4 1212,615.3 1217.1,630.6 1222.6,640.7 1227.2,632.3 1232.5,625.9 1237.8,628 1243.1,631.2 1248,633.3 1253.1,623.4 1258,625.9 1263.3,634.4 1268,636.9 1273.5,634 1279.2,625.9 1284.1,610 1289.5,613.8 1294.8,617.5" fill="none" stroke="#7e57c2" stroke-width="1" stroke-linejoin="round"/></g><g font-family="Liberation Sans, sans-serif"><text x="1486" y="45.6" font-size="12" fill="#131722" textLength="48.2" lengthAdjust="spacingAndGlyphs">92000.00</text><text x="1486" y="82.6" font-size="12" fill="#131722" textLength="48.2" lengthAdjust="spacingAndGlyphs">84000.00</text><text x="1486" y="123.4" font-size="12" fill="#131722" textLength="48.2" lengthAdjust="spacingAndGlyphs">76000.00</text><text x="1486" y="168.8" font-size="12" fill="#131722" textLength="48.2" lengthAdjust="spacingAndGlyphs">68000.00</text><text x="1486" y="277.6" font-size="12" fill="#131722" textLength="48.2" lengthAdjust="spacingAndGlyphs">52000.00</text><text x="1486" y="310.1" font-size="12" fill="#131722" textLength="48.2" lengthAdjust="spacingAndGlyphs">48000.00</text><text x="1486" y="345.1" font-size="12" fill="#131722" textLength="48.2" lengthAdjust="spacingAndGlyphs">44000.00</text><text x="1486" y="384.1" font-size="12" fill="#131722" textLength="48.2" lengthAdjust="spacingAndGlyphs">40000.00</text><text x="1486" y="415.5" font-size="12" fill="#131722" textLength="48.2" lengthAdjust="spacingAndGlyphs">37000.00</text><text x="1486" y="450.4" font-size="12" fill="#131722" textLength="48.2" lengthAdjust="spacingAndGlyphs">34000.00</text><text x="1486" y="487.6" font-size="12" fill="#131722" textLength="48.2" lengthAdjust="spacingAndGlyphs">31000.00</text><text x="1486" y="520.6" font-size="12" fill="#131722" textLength="48.2" lengthAdjust="spacingAndGlyphs">28600.00</text><text x="1486" y="553.7" font-size="12" fill="#131722" textLength="48.2" lengthAdjust="spacingAndGlyphs">26350.00</text><text x="1486" y="589.6" font-size="12" fill="#131722" textLength="30.2" lengthAdjust="spacingAndGlyphs">80.00</text><text x="1486" y="629.8" font-size="12" fill="#131722" textLength="30.2" lengthAdjust="spacingAndGlyphs">60.00</text><text x="1486" y="670.5" font-size="12" fill="#131722" textLength="30.2" lengthAdjust="spacingAndGlyphs">40.00</text><text x="1486" y="710.8" font-size="12" fill="#131722" textLength="30.2" lengthAdjust="spacingAndGlyphs">20.00</text><rect x="1497.5" y="33.5" width="27" height="17.5" rx="3.5" fill="#fefcee" stroke="#d3d2e3"/><text x="1500.8" y="47" font-size="12" fill="#4a4d58" textLength="20.1" lengthAdjust="spacingAndGlyphs">USD</text><rect x="1476" y="165.1" width="65" height="16.8" rx="2" fill="#ef5350"/><rect x="1476" y="165.1" width="4" height="16.8" fill="#ef5350"/><text x="1486" y="177.8" font-size="12" fill="#fff" font-weight="bold" textLength="48.8" lengthAdjust="spacingAndGlyphs">66493.10</text><rect x="1476" y="182" width="65" height="16.6" rx="2" fill="#000000"/><rect x="1476" y="182" width="4" height="16.6" fill="#000000"/><text x="1486" y="194.6" font-size="12" fill="#fff" font-weight="bold" textLength="48.8" lengthAdjust="spacingAndGlyphs">66174.82</text><rect x="1476" y="220.1" width="65" height="16.5" rx="2" fill="#000000"/><rect x="1476" y="220.1" width="4" height="16.5" fill="#000000"/><text x="1486" y="232.7" font-size="12" fill="#fff" font-weight="bold" textLength="48.8" lengthAdjust="spacingAndGlyphs">58130.81</text><rect x="1476" y="280.5" width="65" height="16.3" rx="2" fill="#000000"/><rect x="1476" y="280.5" width="4" height="16.3" fill="#000000"/><text x="1486" y="292.9" font-size="12" fill="#fff" font-weight="bold" textLength="48.8" lengthAdjust="spacingAndGlyphs">50094.72</text><rect x="1476" y="321.3" width="65" height="16.2" rx="2" fill="#000000"/><rect x="1476" y="321.3" width="4" height="16.2" fill="#000000"/><text x="1486" y="333.7" font-size="12" fill="#fff" font-weight="bold" textLength="48.8" lengthAdjust="spacingAndGlyphs">45314.07</text><rect x="1476" y="444.1" width="65" height="16.6" rx="2" fill="#e83e7a"/><rect x="1476" y="444.1" width="4" height="16.6" fill="#e83e7a"/><text x="1486" y="456.7" font-size="12" fill="#fff" font-weight="bold" textLength="48.8" lengthAdjust="spacingAndGlyphs">33487.31</text><rect x="1476" y="483.1" width="65" height="16.7" rx="2" fill="#f23f33"/><rect x="1476" y="483.1" width="4" height="16.7" fill="#f23f33"/><text x="1486" y="495.8" font-size="12" fill="#fff" font-weight="bold" textLength="48.8" lengthAdjust="spacingAndGlyphs">30419.91</text><rect x="1422" y="165.1" width="53" height="16.6" rx="2" fill="#ef5350"/><text x="1427.4" y="177.8" font-size="12" fill="#fff" font-weight="bold" textLength="41.7" lengthAdjust="spacingAndGlyphs">BTCUSD</text><text x="154.2" y="730.2" font-size="12" fill="#131722" text-anchor="middle">Apr</text><text x="307.5" y="730.2" font-size="12" fill="#131722" text-anchor="middle">May</text><text x="465.8" y="730.2" font-size="12" fill="#131722" text-anchor="middle">Jun</text><text x="619.3" y="730.2" font-size="12" fill="#131722" text-anchor="middle">Jul</text><text x="778" y="730.2" font-size="12" fill="#131722" text-anchor="middle">Aug</text><text x="936" y="730.2" font-size="12" fill="#131722" text-anchor="middle">Sep</text><text x="1089" y="730.2" font-size="12" fill="#131722" text-anchor="middle">Oct</text><text x="1248.6" y="730.2" font-size="12" fill="#131722" text-anchor="middle">Nov</text><text x="1401" y="730.2" font-size="12" fill="#131722" text-anchor="middle">Dec</text><text x="18.2" y="46" font-size="12" fill="#131722" textLength="187" lengthAdjust="spacingAndGlyphs">Bitcoin / U.S. Dollar, 1D, BITSTAMP</text><text x="212.9" y="46" font-size="12" fill="#131722" textLength="7.2" lengthAdjust="spacingAndGlyphs">O</text><text x="220.6" y="46" font-size="12" fill="#ef5350" textLength="48.3" lengthAdjust="spacingAndGlyphs">66928.42</text><text x="276.6" y="46" font-size="12" fill="#131722" textLength="7.1" lengthAdjust="spacingAndGlyphs">H</text><text x="284.4" y="46" font-size="12" fill="#ef5350" textLength="48.5" lengthAdjust="spacingAndGlyphs">67387.60</text><text x="340.8" y="46" font-size="12" fill="#131722" textLength="4.8" lengthAdjust="spacingAndGlyphs">L</text><text x="346.4" y="46" font-size="12" fill="#ef5350" textLength="47.8" lengthAdjust="spacingAndGlyphs">66251.09</text><text x="402" y="46" font-size="12" fill="#131722" textLength="6.4" lengthAdjust="spacingAndGlyphs">C</text><text x="409" y="46" font-size="12" fill="#ef5350" textLength="48.5" lengthAdjust="spacingAndGlyphs">66493.10</text><text x="465.3" y="46" font-size="12" fill="#ef5350" textLength="90.3" lengthAdjust="spacingAndGlyphs">&#8722;452.62 (&#8722;0.68%)</text><text x="18.2" y="62.7" font-size="12" fill="#131722" textLength="16" lengthAdjust="spacingAndGlyphs">Vol</text><text x="41.8" y="62.7" font-size="12" fill="#ef5350" textLength="18.3" lengthAdjust="spacingAndGlyphs">288</text><text x="18.2" y="79.5" font-size="12" fill="#131722" textLength="96.1" lengthAdjust="spacingAndGlyphs">EMA (20, close, 0)</text><text x="121.8" y="79.5" font-size="12" fill="#2a3fa0" textLength="48" lengthAdjust="spacingAndGlyphs">62510.02</text><text x="18.2" y="96.5" font-size="12" fill="#131722" textLength="89.4" lengthAdjust="spacingAndGlyphs">MA (50, close, 0)</text><text x="115.4" y="96.5" font-size="12" fill="#b71c1c" textLength="48.5" lengthAdjust="spacingAndGlyphs">56335.19</text><text x="18.7" y="594.5" font-size="12" fill="#131722" textLength="74.6" lengthAdjust="spacingAndGlyphs">RSI (14, close)</text><text x="102.2" y="594.5" font-size="12" fill="#7e57c2" textLength="28.7" lengthAdjust="spacingAndGlyphs">64.16</text><text x="10.3" y="19.1" font-size="12.8" fill="#d1d3da" textLength="386.6" lengthAdjust="spacingAndGlyphs" stroke="#d1d3da" stroke-width="0.45">lilitlindabrig1 published on TradingView.com, Nov 10, 2021 11:50 UTC+4</text><path d="M10 752.2 H17.8 V762 H13.8 V755.8 H10 Z M24.6 752.2 H29.5 L25.5 762 H20.6 Z" fill="#d4d4dc"/><circle cx="21" cy="754" r="1.8" fill="#d4d4dc"/><text x="33.2" y="762" font-size="13" fill="#d4d4dc" textLength="70" lengthAdjust="spacingAndGlyphs" stroke="#d4d4dc" stroke-width="0.3">TradingView</text></g></svg>
</body></html>
